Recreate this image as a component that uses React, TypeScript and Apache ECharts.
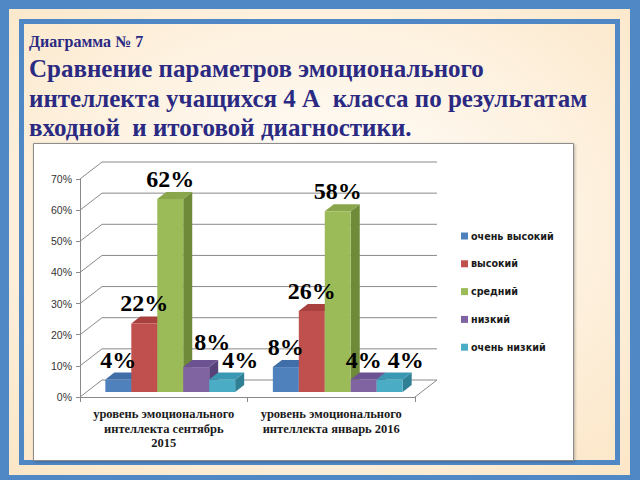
import React, { useEffect, useRef } from "react";
import * as echarts from "echarts";

// ---- data ----
const categories = [
  "уровень эмоционального\nинтеллекта сентябрь\n2015",
  "уровень эмоционального\nинтеллекта январь 2016",
];
const levels = ["очень высокий", "высокий", "средний", "низкий", "очень низкий"];
const veryHigh = [4, 8];
const high = [22, 26];
const medium = [62, 58];
const low = [8, 4];
const veryLow = [4, 4];
const yTicks = [0, 10, 20, 30, 40, 50, 60, 70];
const captionSmall = "Диаграмма № 7";
const captionBig =
  "Сравнение параметров эмоционального\nинтеллекта учащихся 4 А  класса по результатам\nвходной  и итоговой диагностики.";

const seriesValues = [veryHigh, high, medium, low, veryLow];

// ---- styling ----
const SERIF = '"Times New Roman", "Liberation Serif", serif';
const FRONT = ["#4F81BD", "#C0504D", "#9BBB59", "#8064A2", "#4BACC6"];
const TOP = ["#3F6EA8", "#A8403D", "#89A64C", "#6C5290", "#3A98B2"];
const SIDE = ["#335A8C", "#8E3431", "#6F8A38", "#574179", "#2F7F95"];
const WALL_DX = 22;
const WALL_DY = -17;
const FACE_DX = 6.5;
const FACE_DY = -5;
const BAR_DX = 9;
const BAR_DY = -7;
const BAR_FRAC = 0.155;
// label nudges keyed by "series-category"
const labelNudge: Record<string, [number, number]> = {
  "3-0": [16, -5],
  "4-0": [18, 0],
  "4-1": [16, 0],
};

function barGeom(api: any, s: number, cat: number, val: number) {
  const top = api.coord([cat, val]);
  const base = api.coord([cat, 0]);
  const band = api.size([1, 0])[0];
  const bw = band * BAR_FRAC;
  const xl = top[0] - 2.5 * bw + s * bw + FACE_DX;
  const xr = xl + bw;
  const yt = top[1] + FACE_DY;
  const yb = base[1] + FACE_DY;
  return { xl, xr, yt, yb, bw };
}

export default function App() {
  const ref = useRef<HTMLDivElement>(null);
  useEffect(() => {
    if (!ref.current) return;
    const chart = echarts.init(ref.current, null, { renderer: "svg" });

    const wallSeries = {
      type: "custom",
      name: "walls",
      z: 1,
      silent: true,
      data: yTicks.map((v) => [0, v]),
      renderItem: (params: any, api: any) => {
        const v = api.value(1);
        const p0 = api.coord([0, v]);
        const p1 = api.coord([1, v]);
        const band = api.size([1, 0])[0];
        const x0 = p0[0] - band / 2;
        const x1 = p1[0] + band / 2;
        const y = p0[1];
        const ls = { stroke: "#8a8a8a", lineWidth: 1 };
        const children: any[] = [
          { type: "line", shape: { x1: x0 + WALL_DX, y1: y + WALL_DY, x2: x1 + WALL_DX, y2: y + WALL_DY }, style: ls },
          { type: "line", shape: { x1: x0, y1: y, x2: x0 + WALL_DX, y2: y + WALL_DY }, style: ls },
        ];
        if (v === 0) {
          children.push({ type: "line", shape: { x1: x1, y1: y, x2: x1 + WALL_DX, y2: y + WALL_DY }, style: ls });
        }
        return { type: "group", children };
      },
    };

    const barSeries = levels.map((name, s) => ({
      type: "custom",
      name,
      z: 2,
      itemStyle: { color: FRONT[s] },
      data: seriesValues[s].map((v, c) => [c, v]),
      renderItem: (params: any, api: any) => {
        const cat = api.value(0);
        const val = api.value(1);
        const g = barGeom(api, s, cat, val);
        return {
          type: "group",
          children: [
            {
              type: "polygon",
              shape: { points: [[g.xr, g.yt], [g.xr + BAR_DX, g.yt + BAR_DY], [g.xr + BAR_DX, g.yb + BAR_DY], [g.xr, g.yb]] },
              style: { fill: SIDE[s] },
            },
            {
              type: "polygon",
              shape: { points: [[g.xl, g.yt], [g.xl + BAR_DX, g.yt + BAR_DY], [g.xr + BAR_DX, g.yt + BAR_DY], [g.xr, g.yt]] },
              style: { fill: TOP[s] },
            },
            {
              type: "rect",
              shape: { x: g.xl, y: g.yt, width: g.bw, height: g.yb - g.yt },
              style: { fill: FRONT[s] },
            },
          ],
        };
      },
    }));

    const labelData: number[][] = [];
    seriesValues.forEach((arr, s) => arr.forEach((v, c) => labelData.push([c, v, s])));

    const labelSeries = {
      type: "custom",
      name: "labels",
      z: 3,
      silent: true,
      data: labelData,
      renderItem: (params: any, api: any) => {
        const cat = api.value(0);
        const val = api.value(1);
        const s = api.value(2);
        const g = barGeom(api, s, cat, val);
        const n = labelNudge[s + "-" + cat] || [0, 0];
        return {
          type: "text",
          style: {
            text: val + "%",
            x: (g.xl + g.xr) / 2 + n[0],
            y: g.yt - 20 + n[1],
            align: "center",
            verticalAlign: "middle",
            fontFamily: SERIF,
            fontWeight: "bold",
            fontSize: 24,
            fill: "#000000",
          },
        };
      },
    };

    const option: any = {
      animation: false,
      graphic: [
        { type: "rect", z: -10, shape: { x: 0, y: 0, width: 640, height: 480 }, style: { fill: "#5088C6" } },
        {
          type: "rect",
          z: -9,
          shape: { x: 9, y: 9, width: 621, height: 466 },
          style: {
            fill: {
              type: "radial", x: 0.5, y: 0.45, r: 0.75,
              colorStops: [
                { offset: 0, color: "#FFFFFF" },
                { offset: 1, color: "#FCE6C6" },
              ],
            },
          },
        },
        {
          type: "rect",
          z: -8,
          shape: { x: 21.5, y: 21.5, width: 596, height: 441 },
          style: { fill: "transparent", stroke: "#5088C6", lineWidth: 5 },
        },
        {
          type: "rect",
          z: -7,
          shape: { x: 33.5, y: 143.5, width: 540, height: 317 },
          style: { fill: "#FFFFFF", stroke: "#8C8C8C", lineWidth: 1, shadowBlur: 3, shadowColor: "rgba(0,0,0,0.25)", shadowOffsetX: 1, shadowOffsetY: 1 },
        },
        {
          type: "text",
          z: 10,
          x: 29,
          y: 33,
          style: { text: captionSmall, fontFamily: SERIF, fontWeight: "bold", fontSize: 16, fill: "#2B2A82" },
        },
        {
          type: "text",
          z: 10,
          x: 29,
          y: 54,
          style: { text: captionBig, fontFamily: SERIF, fontWeight: "bold", fontSize: 25, fill: "#2B2A82", lineHeight: 29.5 },
        },
      ],
      legend: {
        orient: "vertical",
        left: 456,
        top: 226,
        itemWidth: 7,
        itemHeight: 7,
        itemGap: 17.8,
        itemStyle: { borderWidth: 0 },
        icon: "rect",
        data: levels,
        selectedMode: false,
        textStyle: { fontFamily: "DejaVu Sans", fontWeight: "bold", fontSize: 9.6, color: "#1a1a1a", padding: [0, 0, 0, -2] },
      },
      grid: { left: 80, right: 225, top: 179, bottom: 83 },
      xAxis: {
        type: "category",
        data: categories,
        axisLine: { lineStyle: { color: "#8a8a8a" } },
        axisTick: { show: true, length: 5, lineStyle: { color: "#8a8a8a" } },
        axisLabel: {
          interval: 0,
          margin: 10,
          fontFamily: SERIF,
          fontWeight: "bold",
          fontSize: 12.5,
          lineHeight: 14.5,
          color: "#1a1a1a",
        },
      },
      yAxis: {
        type: "value",
        min: 0,
        max: 70,
        interval: 10,
        axisLine: { show: true, lineStyle: { color: "#8a8a8a" } },
        axisTick: { show: true, length: 4, lineStyle: { color: "#8a8a8a" } },
        splitLine: { show: false },
        axisLabel: { formatter: "{value}%", fontFamily: "Liberation Sans", fontSize: 10.5, color: "#333333", margin: 8 },
      },
      series: [wallSeries, ...barSeries, labelSeries],
    };
    chart.setOption(option);
    return () => chart.dispose();
  }, []);
  return <div ref={ref} style={{ position: "absolute", left: 0, top: 0, width: 640, height: 480 }} />;
}
